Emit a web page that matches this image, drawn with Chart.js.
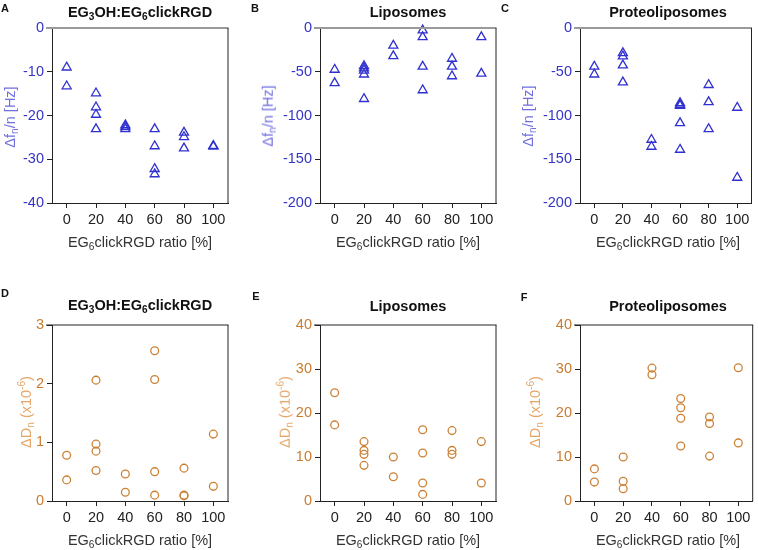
<!DOCTYPE html>
<html><head><meta charset="utf-8">
<script src="https://cdn.jsdelivr.net/npm/chart.js@4.4.0/dist/chart.umd.min.js"></script>
<style>
html,body{margin:0;padding:0;background:#fff;overflow:hidden;width:758px;height:550px;}
canvas{position:absolute;left:0;top:0;}
.t{position:absolute;white-space:nowrap;font-family:'Liberation Sans',Arial,sans-serif;line-height:1;transform:translate(-50%,-50%);}
.r{transform:translate(-50%,-50%) rotate(-90deg);}
.b{font-weight:bold;}
sub{font-size:70%;vertical-align:-0.3em;line-height:0;}
sup{font-size:70%;vertical-align:0.55em;line-height:0;}
</style></head><body>
<canvas id="cA" width="758" height="550"></canvas>
<canvas id="cB" width="758" height="550"></canvas>
<canvas id="cC" width="758" height="550"></canvas>
<canvas id="cD" width="758" height="550"></canvas>
<canvas id="cE" width="758" height="550"></canvas>
<canvas id="cF" width="758" height="550"></canvas>

<div class="t b" style="left:5px;top:8px;font-size:11px;color:#111">A</div>
<div class="t b" style="left:255px;top:8px;font-size:11px;color:#111">B</div>
<div class="t b" style="left:505px;top:8px;font-size:11px;color:#111">C</div>
<div class="t b" style="left:5px;top:293px;font-size:11px;color:#111">D</div>
<div class="t b" style="left:256px;top:296px;font-size:11px;color:#111">E</div>
<div class="t b" style="left:524px;top:297px;font-size:11px;color:#111">F</div>

<div class="t b" style="left:140px;top:12px;font-size:14.5px;color:#111">EG<sub>3</sub>OH:EG<sub>6</sub>clickRGD</div>
<div class="t b" style="left:408px;top:12px;font-size:14.5px;color:#111">Liposomes</div>
<div class="t b" style="left:668px;top:12px;font-size:14.5px;color:#111">Proteoliposomes</div>
<div class="t b" style="left:140px;top:305px;font-size:14.5px;color:#111">EG<sub>3</sub>OH:EG<sub>6</sub>clickRGD</div>
<div class="t b" style="left:408px;top:306px;font-size:14.5px;color:#111">Liposomes</div>
<div class="t b" style="left:668px;top:306px;font-size:14.5px;color:#111">Proteoliposomes</div>

<div class="t" style="left:140px;top:242px;font-size:14.5px;color:#333">EG<sub>6</sub>clickRGD ratio [%]</div>
<div class="t" style="left:408px;top:242px;font-size:14.5px;color:#333">EG<sub>6</sub>clickRGD ratio [%]</div>
<div class="t" style="left:668px;top:242px;font-size:14.5px;color:#333">EG<sub>6</sub>clickRGD ratio [%]</div>
<div class="t" style="left:140px;top:540px;font-size:14.5px;color:#333">EG<sub>6</sub>clickRGD ratio [%]</div>
<div class="t" style="left:408px;top:540px;font-size:14.5px;color:#333">EG<sub>6</sub>clickRGD ratio [%]</div>
<div class="t" style="left:668px;top:540px;font-size:14.5px;color:#333">EG<sub>6</sub>clickRGD ratio [%]</div>

<div class="t r" style="left:10px;top:117px;font-size:14.5px;color:#6f6fe0">Δf<sub>n</sub>/n [Hz]</div>
<div class="t r" style="left:268px;top:116px;font-size:14.5px;color:#6f6fe0">Δf<sub>n</sub>/n [Hz]</div>
<div class="t r" style="left:528px;top:116px;font-size:14.5px;color:#6f6fe0">Δf<sub>n</sub>/n [Hz]</div>
<div class="t r" style="left:26px;top:412px;font-size:14.5px;color:#e3a466">ΔD<sub>n</sub> (x10<sup>-6</sup>)</div>
<div class="t r" style="left:285px;top:412px;font-size:14.5px;color:#e3a466">ΔD<sub>n</sub> (x10<sup>-6</sup>)</div>
<div class="t r" style="left:535px;top:412px;font-size:14.5px;color:#e3a466">ΔD<sub>n</sub> (x10<sup>-6</sup>)</div>

<script>
// ---- data ----
const categories = [0, 20, 40, 60, 80, 100];
const xTickLabels = ['0', '20', '40', '60', '80', '100'];

const freqEG = [[-9.0, -13.3], [-14.9, -18.1, -19.8, -23.1], [-22.2, -22.6, -23.1], [-23.1, -27.0, -32.2, -33.4], [-23.9, -24.9, -27.5], [-26.9, -27.1]];
const freqLipo = [[-47.6, -62.9], [-43.5, -46, -48.5, -53, -81], [-20, -32], [-2.7, -10.3, -44, -71], [-35, -44, -55], [-10.3, -52]];
const freqProteo = [[-44, -53], [-28.6, -32.4, -42.7, -62], [-127.6, -135.6], [-85.7, -87.6, -88.8, -108.6, -139], [-65, -84.6, -115.4], [-91, -171]];
const dissEG = [[0.78, 0.36], [2.06, 0.97, 0.85, 0.52], [0.46, 0.15], [2.56, 2.07, 0.50, 0.10], [0.56, 0.10, 0.09], [1.14, 0.25]];
const dissLipo = [[24.6, 17.3], [13.5, 11.5, 10.6, 8.1], [10.0, 5.5], [16.2, 10.9, 4.1, 1.5], [16.0, 11.5, 10.6], [13.5, 4.1]];
const dissProteo = [[7.3, 4.3], [10.0, 4.5, 2.8], [30.2, 28.7], [23.3, 21.2, 18.8, 12.5], [19.1, 17.6, 10.2], [30.3, 13.2]];

const yTicksFreqEG = [0, -10, -20, -30, -40];
const yTicksFreqLipo = [0, -50, -100, -150, -200];
const yTicksDissEG = [0, 1, 2, 3];
const yTicksDissLipo = [0, 10, 20, 30, 40];

// ---- drawing ----
Chart.defaults.font.family = "'Liberation Sans', Arial, sans-serif";

const framePlugin = {
  id: 'frame',
  afterDatasetsDraw(chart, args, opts) {
    const a = chart.chartArea, ctx = chart.ctx;
    ctx.save();
    ctx.strokeStyle = opts.topColor; ctx.lineWidth = opts.topWidth;
    ctx.beginPath(); ctx.moveTo(a.left - 6, a.top); ctx.lineTo(a.right + 0.5, a.top); ctx.stroke();
    ctx.strokeStyle = '#222'; ctx.lineWidth = 1;
    ctx.beginPath(); ctx.moveTo(a.right, a.top); ctx.lineTo(a.right, a.bottom); ctx.stroke();
    ctx.restore();
  }
};

function makePanel(id, area, values, yTicks, color, tickColor, style, radius, topColor, topWidth) {
  const points = [];
  values.forEach((arr, i) => arr.forEach(v => points.push({ x: categories[i], y: v })));
  const yMin = Math.min(...yTicks), yMax = Math.max(...yTicks);
  new Chart(document.getElementById(id), {
    type: 'scatter',
    data: { datasets: [{ data: points, pointStyle: style, pointRadius: radius, pointBorderColor: color,
      pointBackgroundColor: 'rgba(0,0,0,0)', pointBorderWidth: 1.3, clip: false }] },
    options: {
      responsive: false, animation: false, devicePixelRatio: 1,
      layout: { padding: { left: area[0] - 40, top: area[1], right: 758 - area[2], bottom: 550 - area[3] - 30 } },
      plugins: { legend: { display: false }, tooltip: { enabled: false }, frame: { topColor, topWidth } },
      scales: {
        x: {
          type: 'linear', position: 'bottom', min: -10, max: 110,
          afterFit: s => { s.height = 30; },
          afterBuildTicks: s => { s.ticks = categories.map(v => ({ value: v })); },
          ticks: { color: '#222', font: { size: 14.5 }, padding: 3, maxRotation: 0,
            callback: v => xTickLabels[categories.indexOf(v)] },
          grid: { drawOnChartArea: false, tickLength: 5, color: '#222', lineWidth: 1 },
          border: { color: '#222', width: 1 }
        },
        y: {
          type: 'linear', position: 'left', min: yMin, max: yMax,
          afterFit: s => { s.width = 40; },
          afterBuildTicks: s => { s.ticks = yTicks.map(v => ({ value: v })); },
          ticks: { color: tickColor, font: { size: 14.5 }, padding: 3 },
          grid: { drawOnChartArea: false, tickLength: 5, color: '#222', lineWidth: 1 },
          border: { color: '#222', width: 1 }
        }
      }
    },
    plugins: [framePlugin]
  });
}

const blue = '#3030d0', blueTick = '#3434c8';
const orange = '#cc8034', orangeTick = '#c97c2f';
makePanel('cA', [52, 28, 228, 203], freqEG, yTicksFreqEG, blue, blueTick, 'triangle', 5.2, '#9a9a9a', 2);
makePanel('cB', [320, 28, 496, 203], freqLipo, yTicksFreqLipo, blue, blueTick, 'triangle', 5.2, '#9a9a9a', 2);
makePanel('cC', [580, 28, 756, 203], freqProteo, yTicksFreqLipo, blue, blueTick, 'triangle', 5.2, '#9a9a9a', 2);
makePanel('cD', [52, 325, 228, 501], dissEG, yTicksDissEG, orange, orangeTick, 'circle', 3.9, '#222', 1);
makePanel('cE', [320, 325, 496, 501], dissLipo, yTicksDissLipo, orange, orangeTick, 'circle', 3.9, '#222', 1);
makePanel('cF', [580, 325, 756, 501], dissProteo, yTicksDissLipo, orange, orangeTick, 'circle', 3.9, '#222', 1);
</script>
</body></html>
